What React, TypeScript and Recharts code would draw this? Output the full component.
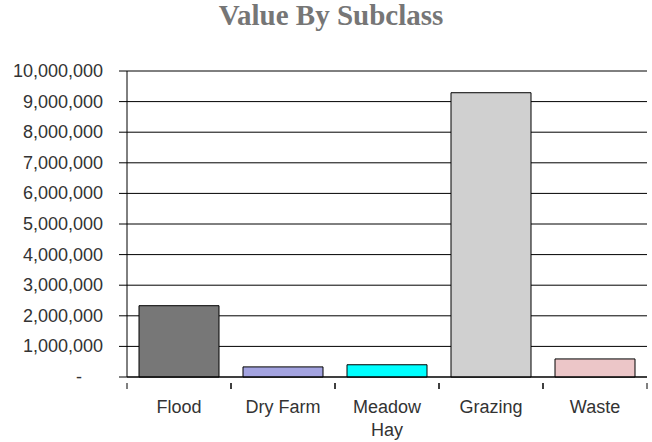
import { BarChart, Bar, XAxis, YAxis, CartesianGrid, Cell } from "recharts";

const categories = ["Flood", "Dry Farm", "Meadow Hay", "Grazing", "Waste"];
const values = [2330000, 330000, 400000, 9290000, 590000];
const colors = ["#777777", "#a3a3e0", "#00ffff", "#d0d0d0", "#ecc6c8"];
const yTicks = [0, 1000000, 2000000, 3000000, 4000000, 5000000, 6000000, 7000000, 8000000, 9000000, 10000000];

const data = categories.map((name, i) => ({ name, value: values[i] }));

const FONT = "'Liberation Sans', Arial, sans-serif";

function YTick({ x, y, payload }: any) {
  const v = payload.value;
  if (v === 0) {
    return (
      <text x={x - 21} y={y} dy={6} textAnchor="end" fontSize={18} fontFamily={FONT} fill="#333">
        -
      </text>
    );
  }
  return (
    <text x={x} y={y} dy={6} textAnchor="end" fontSize={18} fontFamily={FONT} fill="#333">
      {v.toLocaleString("en-US")}
    </text>
  );
}

// category label, plus the boundary tick marks on both sides of the band
function XTick({ x, y, payload, tickSize }: any) {
  const words = String(payload.value) === "Meadow Hay" ? ["Meadow", "Hay"] : [payload.value];
  const half = payload.offset || 0;
  const y0 = y - (tickSize || 0) - 2;
  return (
    <g>
      <line x1={x - half} x2={x - half} y1={y0} y2={y0 + 6} stroke="#000" />
      <line x1={x + half} x2={x + half} y1={y0} y2={y0 + 6} stroke="#000" />
      <text x={x} y={y} textAnchor="middle" fontSize={18} fontFamily={FONT} fill="#333">
        {words.map((w: string, i: number) => (
          <tspan key={i} x={x} dy={i === 0 ? 28 : 23}>
            {w}
          </tspan>
        ))}
      </text>
    </g>
  );
}

export default function App() {
  return (
    <div style={{ position: "absolute", left: 0, top: 0, width: 652, height: 442, background: "#fff" }}>
      <div
        style={{
          position: "absolute",
          left: 0,
          top: 1,
          width: 662,
          textAlign: "center",
          fontFamily: "'Liberation Serif', 'Times New Roman', serif",
          fontWeight: "bold",
          fontSize: 29,
          lineHeight: "29px",
          color: "#767676",
        }}
      >
        Value By Subclass
      </div>
      <BarChart
        width={652}
        height={442}
        data={data}
        margin={{ top: 71, right: 5, left: 0, bottom: 0 }}
        barCategoryGap={12}
      >
        <CartesianGrid vertical={false} stroke="#000" strokeWidth={1} />
        <XAxis
          dataKey="name"
          height={65}
          axisLine={{ stroke: "#000" }}
          tickLine={false}
          interval={0}
          tickSize={0}
          tickMargin={8}
          tick={<XTick />}
        />
        <YAxis
          width={127}
          domain={[0, 10000000]}
          ticks={yTicks}
          interval={0}
          tickSize={8}
          tickMargin={16}
          stroke="#000"
          axisLine={{ stroke: "#000" }}
          tickLine={{ stroke: "#000" }}
          tick={<YTick />}
        />
        <Bar dataKey="value" stroke="#000" strokeWidth={1} isAnimationActive={false}>
          {data.map((_, i) => (
            <Cell key={i} fill={colors[i]} />
          ))}
        </Bar>
      </BarChart>
    </div>
  );
}
